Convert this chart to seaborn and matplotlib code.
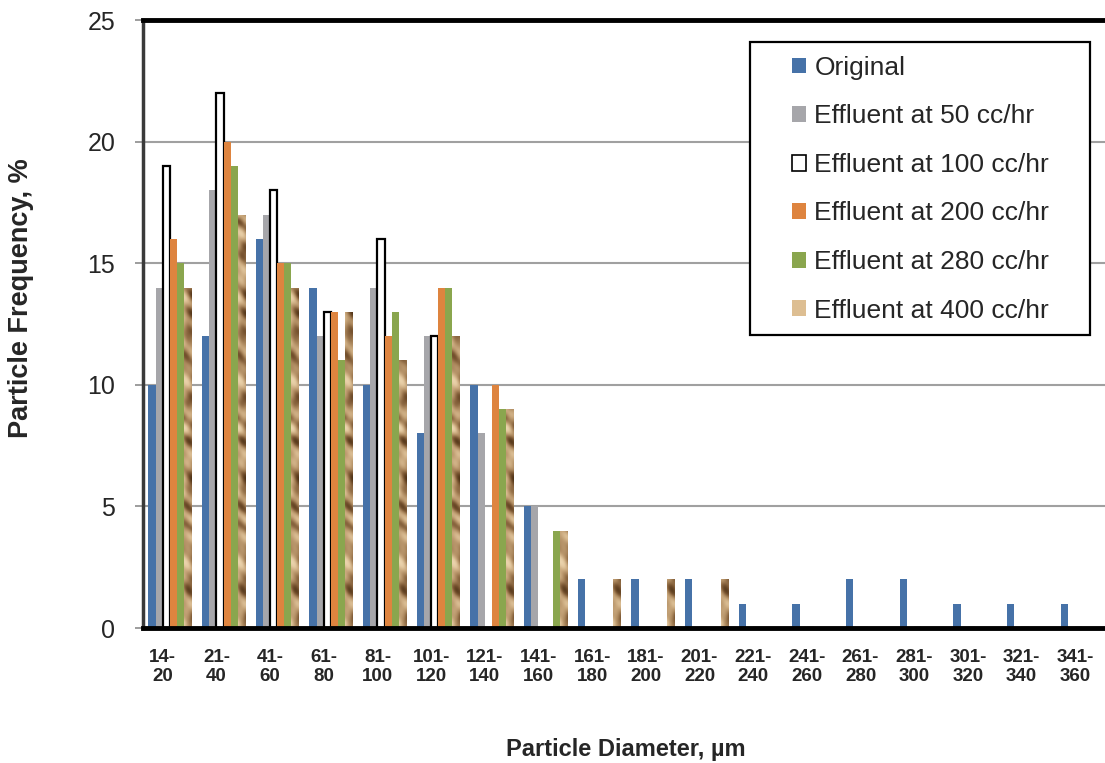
import numpy as np
import pandas as pd
import matplotlib
matplotlib.use("Agg")
import matplotlib.pyplot as plt
from matplotlib.patches import Rectangle, Patch
from matplotlib.colors import LinearSegmentedColormap
from matplotlib.transforms import ScaledTranslation
import seaborn as sns

# ---------------- data ----------------
bins = ["14-\n20", "21-\n40", "41-\n60", "61-\n80", "81-\n100", "101-\n120",
        "121-\n140", "141-\n160", "161-\n180", "181-\n200", "201-\n220",
        "221-\n240", "241-\n260", "261-\n280", "281-\n300", "301-\n320",
        "321-\n340", "341-\n360"]
series_names = ["Original", "Effluent at 50 cc/hr", "Effluent at 100 cc/hr",
                "Effluent at 200 cc/hr", "Effluent at 280 cc/hr",
                "Effluent at 400 cc/hr"]
original = [10, 12, 16, 14, 10, 8, 10, 5, 2, 2, 2, 1, 1, 2, 2, 1, 1, 1]
eff_50 = [14, 18, 17, 12, 14, 12, 8, 5, 0, 0, 0, 0, 0, 0, 0, 0, 0, 0]
eff_100 = [19, 22, 18, 13, 16, 12, 0, 0, 0, 0, 0, 0, 0, 0, 0, 0, 0, 0]
eff_200 = [16, 20, 15, 13, 12, 14, 10, 0, 0, 0, 0, 0, 0, 0, 0, 0, 0, 0]
eff_280 = [15, 19, 15, 11, 13, 14, 9, 4, 0, 0, 0, 0, 0, 0, 0, 0, 0, 0]
eff_400 = [14, 17, 14, 13, 11, 12, 9, 4, 2, 2, 2, 0, 0, 0, 0, 0, 0, 0]
y_ticks = [0, 5, 10, 15, 20, 25]

series_values = [original, eff_50, eff_100, eff_200, eff_280, eff_400]
df = pd.DataFrame({
    "bin": np.tile(bins, len(series_names)),
    "series": np.repeat(series_names, len(bins)),
    "freq": np.concatenate(series_values),
})

# ---------------- style ----------------
colors = {
    "Original": "#4672A8",
    "Effluent at 50 cc/hr": "#A6A6AA",
    "Effluent at 100 cc/hr": "#FFFFFF",
    "Effluent at 200 cc/hr": "#DE843F",
    "Effluent at 280 cc/hr": "#8AA64E",
    "Effluent at 400 cc/hr": "#B08D62",
}
sns.set_style("white")
plt.rcParams["font.family"] = ["Liberation Sans", "DejaVu Sans"]

fig = plt.figure(figsize=(11.05, 7.63), dpi=100)
ax = fig.add_axes([143 / 1105, 1 - 628 / 763, (1109 - 143) / 1105, (628 - 20) / 763])

sns.barplot(data=df, x="bin", y="freq", hue="series", order=bins,
            hue_order=series_names, palette=colors, saturation=1,
            width=0.8, legend=False, ax=ax, zorder=3)

# texture for the 400 cc/hr bars (procedural brown "stone" pattern)
tex_cmap = LinearSegmentedColormap.from_list(
    "tex", ["#4E3216", "#7A5632", "#A8845A", "#C8A77C", "#E2C79E", "#F0DBB6"])
yy, xx = np.mgrid[0:1:600j, 0:1:12j]
texture = (0.6 * np.sin(yy * 140 + 1.6 * np.sin(yy * 37) + xx * 1.5)
           + 0.45 * np.sin(yy * 63 - xx * 2.2 + 2.0 * np.sin(yy * 19))
           + 0.3 * np.cos(yy * 230 + xx * 3.0)
           - 0.6 * xx)

for ci, cont in enumerate(ax.containers):
    name = series_names[ci]
    for bar in cont:
        if name == "Effluent at 100 cc/hr":
            bar.set_edgecolor("black")
            bar.set_linewidth(1.6)
        else:
            bar.set_edgecolor("none")
            bar.set_linewidth(0)
        if name == "Effluent at 400 cc/hr" and bar.get_height() > 0:
            x0 = bar.get_x()
            w = bar.get_width()
            h = bar.get_height()
            rows = int(600 * h / 25)
            im = ax.imshow(texture[:max(rows, 2)], cmap=tex_cmap, aspect="auto",
                           extent=(x0, x0 + w, 0, h), origin="lower",
                           zorder=3.5, interpolation="bilinear",
                           vmin=-1.9, vmax=1.5)
            im.set_clip_path(bar)

ax.set_xlim(-0.5, len(bins) - 0.5)
ax.set_ylim(0, 25)
ax.set_yticks(y_ticks)
ax.set_yticklabels([str(t) for t in y_ticks], fontsize=18)
ax.tick_params(axis="y", length=6, width=1.2, color="#8C8C8C", pad=14,
               left=True, direction="out")
ax.tick_params(axis="x", length=0, pad=15)
shift = ScaledTranslation(-7 / 100, 0, fig.dpi_scale_trans)
for lab in ax.get_xticklabels():
    lab.set_fontsize(13.5)
    lab.set_fontweight("bold")
    lab.set_transform(lab.get_transform() + shift)

ax.yaxis.grid(True, color="#A0A0A0", linewidth=1.5)
ax.set_axisbelow(True)

ax.spines["right"].set_visible(False)
ax.spines["top"].set_color("black")
ax.spines["top"].set_linewidth(3.5)
ax.spines["bottom"].set_color("black")
ax.spines["bottom"].set_linewidth(3.5)
ax.spines["bottom"].set_zorder(5)
ax.spines["left"].set_color("#3A3A3A")
ax.spines["left"].set_linewidth(2.5)

ax.set_xlabel("Particle Diameter, µm", fontsize=17, fontweight="bold", labelpad=38)
ax.set_ylabel("Particle Frequency, %", fontsize=19.5, fontweight="bold")
ax.yaxis.set_label_coords(-0.1128, 0.543)

# legend box
box = Rectangle((0.6284, 0.482), 0.9803 - 0.6284, 0.9638 - 0.482,
                transform=ax.transAxes, facecolor="white", edgecolor="black",
                linewidth=1.6, zorder=6)
ax.add_patch(box)
handles = []
for name in series_names:
    if name == "Effluent at 100 cc/hr":
        handles.append(Patch(facecolor="white", edgecolor="black", linewidth=1.2, label=name))
    elif name == "Effluent at 400 cc/hr":
        handles.append(Patch(facecolor="#DDBE92", edgecolor="none", label=name))
    else:
        handles.append(Patch(facecolor=colors[name], edgecolor="none", label=name))
leg = ax.legend(handles=handles, loc="upper left", bbox_to_anchor=(0.6718, 0.941),
                frameon=False, fontsize=19, handlelength=0.55, handleheight=0.55,
                handletextpad=0.3, labelspacing=0.93, borderpad=0, borderaxespad=0)
leg.set_zorder(7)

fig.savefig("out.png", dpi=100)
